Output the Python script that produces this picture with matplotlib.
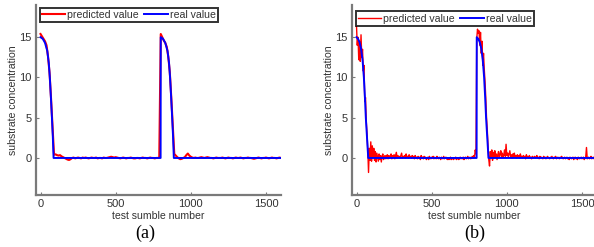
import numpy as np
import matplotlib
matplotlib.use("Agg")
import matplotlib.pyplot as plt

plt.rcParams['font.family'] = ['Liberation Sans', 'DejaVu Sans']

# ---------------- data ----------------
# panel (a): real value key points (two pulses)
real_a_x = [0, 15, 30, 45, 55, 62, 69, 76, 82, 87, 799,
            800, 815, 830, 845, 855, 862, 869, 876, 882, 887, 1600]
real_a_y = [15, 14.8, 14.3, 13.3, 11.8, 10, 7.6, 5, 2.6, 0, 0,
            15, 14.8, 14.3, 13.3, 11.8, 10, 7.6, 5, 2.6, 0, 0]

# panel (a): predicted value, sampled every 10
pred_a = [
    15.4, 15.1, 14.8, 14.5, 14.0, 12.6, 10.6, 7.4, 3.8, 0.4,
    0.45, 0.35, 0.3, 0.35, 0.2, 0.1, 0.0, -0.1, -0.2, -0.25,
    -0.15, 0.0, 0.05, -0.05, 0.0, 0.05, 0.0, -0.05, 0.05, 0.0,
    0.05, 0.0, -0.05, 0.0, 0.05, 0.0, 0.0, 0.05, -0.05, 0.0,
    0.0, -0.05, 0.05, 0.0, 0.0, 0.05, 0.1, 0.15, 0.1, 0.05,
    0.1, 0.05, 0.0, -0.05, 0.0, 0.05, 0.0, -0.05, 0.0, 0.0,
    0.05, 0.0, -0.05, -0.05, 0.0, 0.0, -0.05, 0.0, 0.05, 0.0,
    0.0, -0.05, 0.0, 0.05, 0.0, 0.0, -0.05, 0.0, 0.0, 0.05,
    15.4, 15.0, 14.6, 14.3, 13.8, 12.6, 10.7, 7.5, 4.0, 0.5,
    0.3, 0.1, -0.05, -0.15, -0.1, 0.0, 0.1, 0.35, 0.55, 0.3,
    0.15, 0.05, 0.0, 0.05, 0.0, 0.0, 0.05, 0.1, 0.05, 0.0,
    0.05, 0.1, 0.05, 0.0, 0.0, -0.05, 0.0, 0.05, 0.0, 0.0,
    0.0, 0.05, 0.0, -0.05, 0.0, 0.05, 0.0, 0.0, -0.05, 0.0,
    0.05, 0.0, 0.0, 0.05, 0.0, -0.05, 0.0, 0.0, 0.05, 0.0,
    0.0, -0.05, -0.1, -0.05, 0.0, 0.05, 0.0, -0.05, 0.0, 0.0,
    0.05, 0.0, -0.05, 0.0, 0.05, 0.0, 0.0, -0.05, 0.0, 0.05,
    0.0,
]
pred_a_step = 10

# panel (b): real value key points
real_b_x = [0, 10, 20, 30, 40, 49, 56, 62, 70, 78, 799,
            800, 810, 820, 830, 840, 849, 856, 862, 870, 878, 1600]
real_b_y = [15, 14.8, 14.4, 13.6, 12.2, 10, 7.5, 5, 2.5, 0, 0,
            15, 14.8, 14.4, 13.6, 12.2, 10, 7.5, 5, 2.5, 0, 0]

# panel (b): predicted value, sampled every 5
pred_b = [
    16.4, 14.0, 15.0, 12.2, 14.5, 12.0, 15.3, 12.5, 13.5, 10.8, 11.5, 7.0, 7.5, 4.5, 3.0, 1.0, -1.8, 1.2, -0.3, 2.0,
    -0.4, 1.5, 0.2, 1.2, -0.3, 0.8, -0.5, 0.6, 0.1, -0.4, 0.5, -0.2, 0.3, -0.5, 0.2, 0.5, -0.2, 0.1, 0.3, -0.1,
    0.2, 0.4, -0.1, 0.3, 0.0, 0.2, 0.5, -0.1, 0.3, 0.1, 0.4, -0.1, 0.3, 0.7, 0.0, 0.3, 0.1, 0.2, 0.0, 0.3,
    0.6, 0.0, 0.2, 0.1, 0.3, 0.0, 0.5, 0.1, 0.2, 0.0, 0.4, 0.1, 0.2, 0.0, 0.3, 0.1, 0.2, -0.1, 0.3, 0.0,
    0.1, -0.1, 0.2, 0.0, 0.1, -0.2, 0.3, 0.0, 0.1, -0.1, 0.2, 0.0, 0.1, -0.2, 0.0, 0.1, -0.2, 0.2, 0.0, -0.1,
    0.1, 0.0, 0.2, -0.1, 0.1, 0.0, -0.1, 0.2, 0.0, -0.1, 0.1, 0.0, -0.2, 0.1, 0.0, -0.1, 0.2, -0.1, 0.0, 0.1,
    -0.1, -0.2, 0.0, -0.2, -0.1, 0.1, -0.2, 0.0, -0.1, -0.2, 0.0, -0.1, 0.1, -0.2, -0.1, 0.0, -0.2, -0.1, 0.1, -0.1,
    0.0, -0.1, 0.1, -0.2, 0.0, 0.1, -0.1, 0.0, 0.2, -0.1, 0.0, 0.1, -0.1, 0.0, 0.2, 0.0, 0.3, 0.1, 1.0, 0.5,
    14.8, 16.0, 15.5, 15.8, 14.0, 15.6, 13.0, 14.5, 11.5, 13.0, 11.0, 9.5, 7.5, 5.0, 3.5, 1.5, -0.2, -1.0, 0.8, 0.2,
    1.0, -0.3, 0.7, 0.0, 0.9, 0.2, 0.5, -0.2, 0.4, 0.8, 0.1, 0.4, 0.9, 0.2, 0.6, 0.1, 0.4, 1.0, 0.2, 1.7,
    0.3, 0.6, 0.1, 0.5, 0.9, 0.2, 0.4, 0.0, 0.5, 0.2, 0.6, 0.1, 0.3, 0.0, 0.4, 0.2, 0.3, 0.0, 0.5, 0.1,
    0.2, 0.0, 0.3, 0.1, 0.2, -0.1, 0.4, 0.1, 0.2, 0.0, 0.3, 0.0, 0.1, -0.1, 0.2, 0.0, 0.1, 0.2, 0.0, 0.1,
    0.3, 0.0, 0.1, -0.1, 0.2, 0.0, 0.1, 0.0, -0.1, 0.2, 0.0, 0.1, -0.1, 0.0, 0.2, 0.1, 0.0, -0.1, 0.1, 0.0,
    0.2, 0.0, -0.1, 0.1, 0.0, 0.2, -0.1, 0.0, 0.1, 0.0, -0.1, 0.1, 0.0, 0.2, 0.0, -0.1, 0.0, 0.1, -0.1, 0.0,
    0.1, -0.1, 0.0, -0.2, 0.1, 0.0, -0.1, 0.0, 0.1, -0.2, 0.0, 0.1, -0.1, 0.0, -0.2, 0.1, 0.0, -0.1, 0.0, 0.1,
    -0.1, 0.0, 0.1, -0.2, 0.0, 0.1, 1.3, -0.1, 0.0, 0.1, -0.1, 0.0, 0.2, -0.1, 0.0, 0.1, -0.1, 0.0, 0.1, 0.0,
    0.0,
]
pred_b_step = 5

x_ticks = [0, 500, 1000, 1500]
y_ticks = [0, 5, 10, 15]
legend_labels = ["predicted value", "real value"]
xlabel = "test sumble number"
ylabel = "substrate concentration"
panel_labels = ["(a)", "(b)"]

# ---------------- figure ----------------
W, H = 594, 247
fig = plt.figure(figsize=(W / 100, H / 100), dpi=100)

spine_col = "#7a7a7a"
text_col = "#333333"
fs = 7.6

def make_axes(left_px, pred, step, rx, ry, red_lw, legend_top_px, label, label_x_px):
    left = left_px / W
    bottom = (H - 195) / H
    width = 245 / W
    height = (195 - 5) / H
    ax = fig.add_axes([left, bottom, width, height])
    xs = step * np.arange(len(pred))
    ax.plot(xs, pred, color="#ff0000", lw=red_lw, label=legend_labels[0], zorder=2)
    ax.plot(rx, ry, color="#0000ff", lw=1.4, label=legend_labels[1], zorder=3)
    ax.set_xlim(-30, 1600)
    ax.set_ylim(-4.6, 19)
    ax.set_xticks(x_ticks)
    ax.set_yticks(y_ticks)
    for s in ["top", "right"]:
        ax.spines[s].set_visible(False)
    for s in ["left", "bottom"]:
        ax.spines[s].set_color(spine_col)
        ax.spines[s].set_linewidth(1.6)
    ax.tick_params(direction="in", length=2.5, width=0.8, color=spine_col,
                   labelsize=8, labelcolor=text_col, pad=3)
    ax.set_xlabel(xlabel, fontsize=fs, color=text_col, labelpad=1)
    ax.set_ylabel(ylabel, fontsize=fs, color=text_col, labelpad=1)
    leg = ax.legend(loc="upper left", ncol=2, fontsize=fs, frameon=True,
                    fancybox=False, borderpad=0.2, handlelength=2.2,
                    handletextpad=0.2, columnspacing=0.5, borderaxespad=0,
                    bbox_to_anchor=((4) / 245, 1 - (legend_top_px - 5) / 190))
    leg.get_frame().set_edgecolor("black")
    leg.get_frame().set_linewidth(1.4)
    for t in leg.get_texts():
        t.set_color(text_col)
    fig.text(label_x_px / W, 1 - 233 / H, label, ha="center", va="center",
             fontsize=13, family="Liberation Serif", color="black")
    return ax

make_axes(36, pred_a, pred_a_step, real_a_x, real_a_y, 1.5, 8, panel_labels[0], 145)
make_axes(352, pred_b, pred_b_step, real_b_x, real_b_y, 1.0, 11.5, panel_labels[1], 475)

fig.savefig("out.png", dpi=100)
